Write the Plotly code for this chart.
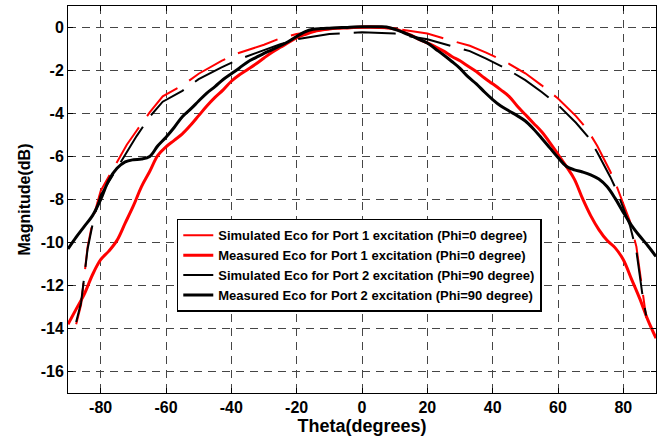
import plotly.graph_objects as go

theta_sim = [-87.5, -86, -84, -82, -80, -76, -72, -69, -65, -61, -55, -50, -43, -38, -30, -25, -20, -10, 0,
             10, 20, 26, 33, 38, 44, 50, 55, 60, 65.5, 69, 72, 76, 78, 80, 82, 84, 86, 87]
sim_red = [-13.8, -12.9, -10.2, -8.7, -7.6, -6.5, -5.45, -4.8, -3.95, -3.2, -2.7, -2.15, -1.55, -1.2, -0.8, -0.5,
           -0.3, -0.07, 0, -0.05, -0.28, -0.55, -0.85, -1.17, -1.6, -2.13, -2.69, -3.3, -4.12, -4.75, -5.5, -6.7,
           -7.4, -8.2, -9.0, -10.2, -12.5, -13.5]
sim_black = [-13.7, -12.8, -10.3, -8.8, -7.8, -6.8, -5.75, -5.05, -4.15, -3.45, -2.95, -2.4, -1.85, -1.5, -1.05,
             -0.78, -0.55, -0.3, -0.22, -0.28, -0.55, -0.8, -1.1, -1.45, -1.9, -2.45, -3.0, -3.6, -4.43, -5.05,
             -5.8, -6.95, -7.6, -8.4, -9.2, -10.4, -12.6, -13.4]

theta_meas = [-90, -87.5, -85, -82.5, -80, -77.5, -75, -72.5, -70, -67.5, -65, -62.5, -60, -57.5, -55, -52.5,
              -50, -47.5, -45, -42.5, -40, -37.5, -35, -32.5, -30, -27.5, -25, -22.5, -20, -17.5, -15, -12.5,
              -10, -7.5, -5, -2.5, 0, 2.5, 5, 7.5, 10, 12.5, 15, 17.5, 20, 22.5, 25, 27.5, 30, 32.5, 35, 37.5,
              40, 42.5, 45, 47.5, 50, 52.5, 55, 57.5, 60, 62.5, 65, 67.5, 70, 72.5, 75, 77.5, 80, 82.5, 85,
              87.5, 90]
meas_red = [-13.8, -13.1, -12.4, -11.5, -10.8, -10.4, -9.9, -9.1, -8.3, -7.4, -6.7, -5.95, -5.55, -5.25, -4.95,
            -4.55, -4.1, -3.65, -3.25, -2.9, -2.5, -2.2, -1.95, -1.7, -1.42, -1.15, -0.92, -0.7, -0.47, -0.33,
            -0.2, -0.12, -0.07, -0.04, -0.02, 0.0, 0.02, 0.03, 0.02, -0.01, -0.06, -0.2, -0.35, -0.55, -0.72,
            -0.9, -1.1, -1.35, -1.55, -1.8, -2.05, -2.35, -2.62, -2.9, -3.2, -3.65, -4.05, -4.45, -4.85, -5.35,
            -5.9, -6.45, -7.05, -7.95, -8.75, -9.4, -9.9, -10.25, -10.8, -11.7, -12.6, -13.6, -14.45]
meas_black = [-10.3, -9.75, -9.25, -8.75, -8.0, -7.1, -6.55, -6.25, -6.15, -6.12, -6.0, -5.5, -5.1, -4.65, -4.15,
              -3.8, -3.42, -3.05, -2.75, -2.42, -2.15, -1.88, -1.6, -1.4, -1.2, -1.03, -0.85, -0.65, -0.42, -0.2,
              -0.08, -0.05, -0.03, -0.01, 0.0, 0.02, 0.03, 0.03, 0.03, 0.02, -0.08, -0.22, -0.38, -0.55, -0.72,
              -1.0, -1.28, -1.58, -1.9, -2.3, -2.62, -3.0, -3.35, -3.65, -3.88, -4.1, -4.35, -4.72, -5.15, -5.6,
              -6.05, -6.45, -6.62, -6.72, -6.85, -7.05, -7.4, -7.95, -8.6, -9.2, -9.7, -10.15, -10.65]

names = ["Simulated Eco for Port 1 excitation (Phi=0 degree)",
         "Measured Eco for Port 1 excitation (Phi=0 degree)",
         "Simulated Eco for Port 2 excitation (Phi=90 degree)",
         "Measured Eco for Port 2 excitation (Phi=90 degree)"]

x_ticks = [-80, -60, -40, -20, 0, 20, 40, 60, 80]
y_ticks = [0, -2, -4, -6, -8, -10, -12, -14, -16]

fig = go.Figure()
fig.add_trace(go.Scatter(x=theta_sim, y=sim_red, mode="lines", name=names[0],
                         line=dict(color="rgb(255,0,0)", width=2, dash="42px,14px")))
fig.add_trace(go.Scatter(x=theta_meas, y=meas_red, mode="lines", name=names[1],
                         line=dict(color="rgb(255,0,0)", width=3, shape="spline")))
fig.add_trace(go.Scatter(x=theta_sim, y=sim_black, mode="lines", name=names[2],
                         line=dict(color="black", width=2, dash="42px,14px")))
fig.add_trace(go.Scatter(x=theta_meas, y=meas_black, mode="lines", name=names[3],
                         line=dict(color="black", width=3, shape="spline")))

axis_common = dict(showline=True, linecolor="black", linewidth=1, mirror="ticks",
                   ticks="inside", ticklen=5, tickcolor="black",
                   showgrid=True, gridcolor="rgb(70,70,70)", griddash="8px,6px", gridwidth=1,
                   zeroline=False,
                   tickfont=dict(family="Liberation Sans", size=16, color="black", weight="bold"))

fig.update_xaxes(range=[-90, 90], tickvals=x_ticks, ticktext=[str(v) for v in x_ticks],
                 title=dict(text="<b>Theta(degrees)</b>", standoff=4,
                            font=dict(family="Liberation Sans", size=18, color="black")),
                 **axis_common)
fig.update_yaxes(range=[-17, 1], tickvals=y_ticks, ticktext=[str(v) for v in y_ticks],
                 title=dict(text="<b>Magnitude(dB)</b>", standoff=6,
                            font=dict(family="Liberation Sans", size=16, color="black")),
                 **axis_common)

fig.update_layout(
    width=670, height=441,
    margin=dict(l=68, r=14, t=6, b=48),
    plot_bgcolor="white", paper_bgcolor="white",
    showlegend=True,
    legend=dict(x=0.185, y=0.45, xanchor="left", yanchor="top",
                bgcolor="white", bordercolor="black", borderwidth=1.5,
                font=dict(family="Liberation Sans", size=13, color="black", weight="bold"),
                tracegroupgap=0, itemwidth=30),
)

fig.write_html("out.html")
